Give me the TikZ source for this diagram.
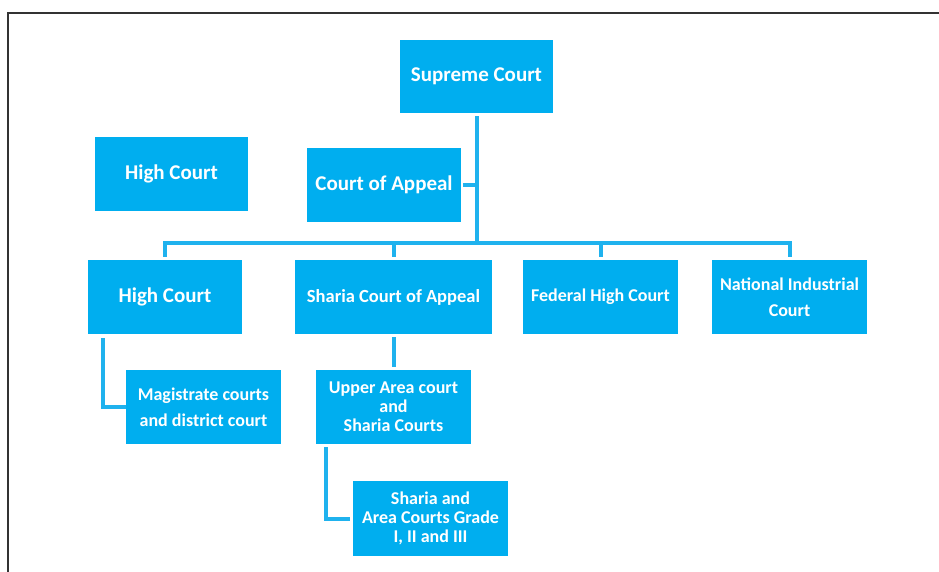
\documentclass[tikz,border=0pt]{standalone}
\usepackage{fontspec}
\setmainfont{Carlito}
\definecolor{courtblue}{HTML}{00AEEF}
\definecolor{linkblue}{HTML}{1FB2EE}
\definecolor{frame}{HTML}{333333}

\begin{document}
\begin{tikzpicture}[x=1pt,y=-1pt]
                \tikzset{
                    court/.style={fill=courtblue, text=white, align=center, inner sep=0pt,
                        font=\bfseries\fontsize{18}{19}\selectfont,
                        minimum width=155pt, minimum height=74pt},
                    bigtext/.style={font=\bfseries\fontsize{21}{23}\selectfont},
                    link/.style={draw=linkblue, line width=4pt},
                    gap/.style={shorten <=3pt, shorten >=3pt}
                }
                \useasboundingbox (0,0) rectangle (939,572);
                \draw[frame, line width=2.5pt] (8,572) |- (939,13);

                \node[court, bigtext, minimum width=153pt, minimum height=73pt] (supreme) at (476.5,76.5) {Supreme Court};
                \node[court, bigtext, minimum width=153pt] (hightop) at (171.5,174) {High Court};
                \node[court, bigtext, minimum width=154pt] (appeal) at (384,185) {Court of Appeal};

                \node[court, bigtext, minimum width=154pt] (high) at (165,297) {High Court};
                \node[court, minimum width=197pt, font=\bfseries\fontsize{18.5}{19}\selectfont] (sharia) at (393.5,297) {Sharia Court of Appeal};
                \node[court] (federal) at (600.5,297) {Federal High Court};
                \node[court] (nic) at (789.5,297) {National Industrial\\[7pt]Court};

                \node[court] (magis) at (203.5,407) {Magistrate courts\\[7pt]and district court};
                \node[court] (upper) at (393.5,407) {Upper Area court\\and\\Sharia Courts};
                \node[court, minimum height=75pt] (grade) at (430.5,518.5) {Sharia and\\Area Courts Grade\\I, II and III};

                \coordinate (bus) at (477,243);

                \draw[link, shorten <=3pt] (supreme.south) -- (supreme.south |- bus);
                \draw[link, shorten <=2pt] (appeal.east) -- (appeal.east -| supreme.south);
                \draw[link, gap] (high.north) |- (bus) -| (nic.north);
                \foreach \court in {sharia, federal}
                \draw[link, shorten >=3pt] (bus -| \court.north) -- (\court.north);

                \draw[link, shorten <=4pt] ([xshift=15pt]high.south west) |- (magis.west);
                \draw[link, gap] (sharia.south) -- (upper.north);
                \draw[link, shorten <=3pt, shorten >=3pt] ([xshift=10pt]upper.south west) |- (grade.west);
            \end{tikzpicture}
\end{document}
